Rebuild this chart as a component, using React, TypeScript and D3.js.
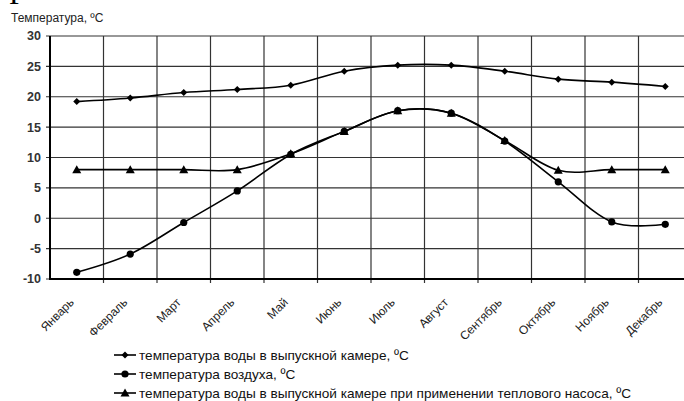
import React from 'react';
import * as d3 from 'd3';

const months = ['Январь', 'Февраль', 'Март', 'Апрель', 'Май', 'Июнь', 'Июль', 'Август', 'Сентябрь', 'Октябрь', 'Ноябрь', 'Декабрь'];
const waterTemp = [19.2, 19.8, 20.7, 21.2, 21.9, 24.2, 25.2, 25.2, 24.2, 22.9, 22.4, 21.7];
const airTemp = [-8.9, -5.9, -0.7, 4.5, 10.5, 14.3, 17.7, 17.3, 12.7, 6.0, -0.6, -1.0];
const pumpTemp = [8, 8, 8, 8, 10.6, 14.3, 17.7, 17.3, 12.8, 7.9, 8, 8];
const yTicks = [-10, -5, 0, 5, 10, 15, 20, 25, 30];
const legendLabels = [
  'температура воды в выпускной камере, ºС',
  'температура воздуха, ºС',
  'температура воды в выпускной камере при применении теплового насоса, ºС',
];

const W = 684;
const H = 401;
const font = 'Liberation Sans, Arial, sans-serif';

const Marker = ({ kind, x, y }: { kind: string; x: number; y: number }) => {
  if (kind === 'diamond') {
    return <path d={`M${x},${y - 3.5}L${x + 3.5},${y}L${x},${y + 3.5}L${x - 3.5},${y}Z`} fill="#000" />;
  }
  if (kind === 'circle') {
    return <circle cx={x} cy={y} r={3.6} fill="#000" />;
  }
  return <path d={`M${x},${y - 4.5}L${x + 4.5},${y + 3.5}L${x - 4.5},${y + 3.5}Z`} fill="#000" />;
};

const App = () => {
  const x = d3.scaleBand().domain(months).range([50, 692]);
  const y = d3.scaleLinear().domain([-10, 30]).range([279, 36]);
  const cx = (m: string) => (x(m) as number) + x.bandwidth() / 2;

  const line = d3
    .line<number>()
    .x((_, i) => cx(months[i]))
    .y((d) => y(d))
    .curve(d3.curveCardinal.tension(0));

  const series = [
    { values: waterTemp, kind: 'diamond' },
    { values: airTemp, kind: 'circle' },
    { values: pumpTemp, kind: 'triangle' },
  ];

  return (
    <svg width={W} height={H} style={{ position: 'absolute', left: 0, top: 0, background: '#fff' }}>
      {/* cropped heading letter */}
      <text x={9} y={4} fontFamily="Liberation Serif, serif" fontSize={30} fill="#000">Р</text>
      <text x={11} y={22} fontFamily={font} fontSize={12} fill="#222">Температура, ºС</text>

      {/* grid */}
      {yTicks.map((t) => (
        <g key={t}>
          <line x1={46} x2={W} y1={y(t)} y2={y(t)} stroke="#333" strokeWidth={1.2} />
          <text x={41} y={y(t)} dy="0.35em" textAnchor="end" fontFamily={font} fontSize={12.5} fontWeight="bold" fill="#333">
            {t}
          </text>
        </g>
      ))}
      {months.map((m) => (
        <line key={m} x1={(x(m) as number) + x.bandwidth()} x2={(x(m) as number) + x.bandwidth()} y1={36} y2={283} stroke="#333" strokeWidth={1.2} />
      ))}
      <line x1={50} x2={50} y1={36} y2={280} stroke="#000" strokeWidth={2} />
      <line x1={49} x2={W} y1={279} y2={279} stroke="#000" strokeWidth={2} />

      {/* x labels */}
      {months.map((m) => (
        <text
          key={m}
          transform={`translate(${cx(m) - 2},${303}) rotate(-45)`}
          textAnchor="end"
          fontFamily={font}
          fontSize={12}
          fill="#222"
        >
          {m}
        </text>
      ))}

      {/* series */}
      {series.map((s, si) => (
        <g key={si}>
          <path d={line(s.values) as string} fill="none" stroke="#000" strokeWidth={1.6} />
          {s.values.map((v, i) => (
            <Marker key={i} kind={s.kind} x={cx(months[i])} y={y(v)} />
          ))}
        </g>
      ))}

      {/* legend */}
      {series.map((s, i) => {
        const ly = 355 + i * 19;
        return (
          <g key={i}>
            <line x1={114} x2={136} y1={ly} y2={ly} stroke="#000" strokeWidth={1.6} />
            <Marker kind={s.kind} x={125} y={ly} />
            <text x={139} y={ly} dy="0.36em" fontFamily={font} fontSize={13.6} fill="#111">
              {legendLabels[i]}
            </text>
          </g>
        );
      })}
    </svg>
  );
};

export default App;
